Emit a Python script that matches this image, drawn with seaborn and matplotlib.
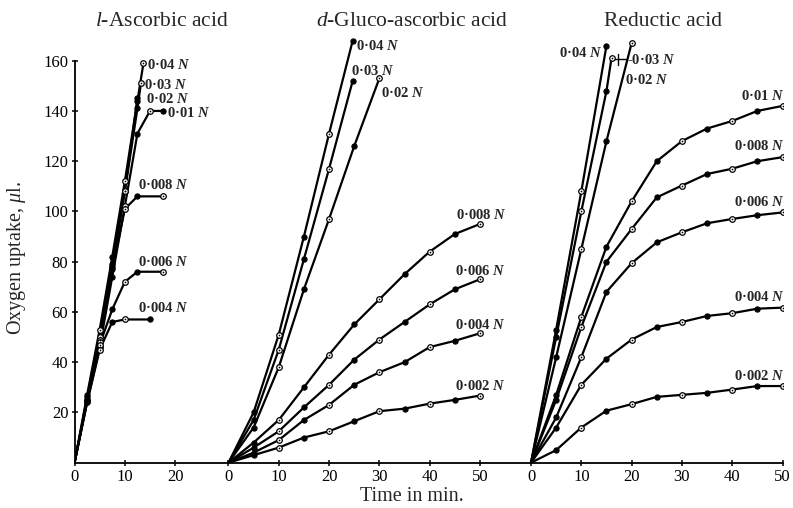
import matplotlib
matplotlib.use("Agg")
import matplotlib.pyplot as plt
import pandas as pd
import seaborn as sns

# three panels share one time axis; each panel's zero sits at an offset
panel_titles = ["$l$-Ascorbic acid", "$d$-Gluco-ascorbic acid", "Reductic acid"]
panel_offset = [0, 30.6, 90.75]
panel_ticks = [[0, 10, 20], [0, 10, 20, 30, 40, 50], [0, 10, 20, 30, 40, 50]]
y_ticks = [20, 40, 60, 80, 100, 120, 140, 160]

# l-ascorbic acid (time in min, oxygen uptake in ul)
asc_conc = ["0·04", "0·03", "0·02", "0·01", "0·008", "0·006", "0·004"]
asc_times = [
    [0, 2.5, 5, 7.5, 10, 12.5, 13.7],
    [0, 2.5, 5, 7.5, 10, 12.5, 13.2],
    [0, 2.5, 5, 7.5, 10, 12.5],
    [0, 2.5, 5, 7.5, 10, 12.5, 15, 17.5],
    [0, 2.5, 5, 7.5, 10, 12.5, 17.5],
    [0, 2.5, 5, 7.5, 10, 12.5, 17.5],
    [0, 2.5, 5, 7.5, 10, 15],
]
asc_values = [
    [0, 27, 53, 82, 112, 144, 159],
    [0, 26, 50, 79, 108, 141, 151],
    [0, 25, 49, 78, 108, 145],
    [0, 24, 46, 74, 102, 131, 140, 140],
    [0, 25, 48, 77, 101, 106, 106],
    [0, 25, 47, 61, 72, 76, 76],
    [0, 24, 45, 56, 57, 57],
]

# d-gluco-ascorbic acid
glu_conc = ["0·04", "0·03", "0·02", "0·008", "0·006", "0·004", "0·002"]
glu_times = [
    [0, 5, 10, 15, 20, 24.7],
    [0, 5, 10, 15, 20, 24.7],
    [0, 5, 10, 15, 20, 25, 30],
    [0, 5, 10, 15, 20, 25, 30, 35, 40, 45, 50],
    [0, 5, 10, 15, 20, 25, 30, 35, 40, 45, 50],
    [0, 5, 10, 15, 20, 25, 30, 35, 40, 45, 50],
    [0, 5, 10, 15, 20, 25, 30, 35, 40, 45, 50],
]
glu_values = [
    [0, 20, 51, 90, 131, 168],
    [0, 17, 45, 81, 117, 152],
    [0, 14, 38, 69, 97, 126, 153],
    [0, 8, 17, 30, 43, 55, 65, 75, 84, 91, 95],
    [0, 6, 12.5, 22, 31, 41, 49, 56, 63, 69, 73],
    [0, 4, 9, 17, 23, 31, 36, 40, 46, 48.5, 51.5],
    [0, 3, 6, 10, 12.5, 16.5, 20.5, 21.5, 23.5, 25, 26.7],
]

# reductic acid
red_conc = ["0·04", "0·03", "0·02", "0·01", "0·008", "0·006", "0·004", "0·002"]
red_times = [
    [0, 5, 10, 15],
    [0, 5, 10, 15, 16],
    [0, 5, 10, 15, 20],
    [0, 5, 10, 15, 20, 25, 30, 35, 40, 45, 50],
    [0, 5, 10, 15, 20, 25, 30, 35, 40, 45, 50],
    [0, 5, 10, 15, 20, 25, 30, 35, 40, 45, 50],
    [0, 5, 10, 15, 20, 25, 30, 35, 40, 45, 50],
    [0, 5, 10, 15, 20, 25, 30, 35, 40, 45, 50],
]
red_values = [
    [0, 53, 108, 166],
    [0, 50, 100, 148, 161],
    [0, 42, 85, 128, 167],
    [0, 27, 58, 86, 104, 120, 128, 133, 136, 140, 142],
    [0, 25, 54, 80, 93, 105.6, 110.3, 114.9, 117, 120, 121.6],
    [0, 18, 42, 68, 79.4, 87.7, 91.7, 95.3, 97, 98.5, 99.6],
    [0, 14, 31, 41.4, 49, 54, 56, 58.4, 59.5, 61.3, 61.7],
    [0, 5, 14, 20.7, 23.3, 26.2, 27, 27.8, 29.1, 30.5, 30.5],
]

# where the concentration labels go (panel time, uptake, alignment)
asc_label_pos = [(14.35, 158.3, "left"), (13.8, 150.3, "left"), (14.2, 144.8, "left"),
                 (18.3, 139.3, "left"), (12.6, 110.5, "left"), (12.6, 80, "left"),
                 (12.6, 61.5, "left")]
glu_label_pos = [(25.3, 165.7, "left"), (24.3, 156, "left"), (30.4, 147.3, "left"),
                 (45.3, 98.6, "left"), (45, 76.4, "left"), (45, 54.8, "left"),
                 (45, 30.6, "left")]
red_label_pos = [(14.3, 163, "right"), (19.0, 160.3, "left"), (18.7, 152.3, "left"),
                 (50.4, 146, "right"), (50.4, 126.2, "right"), (50.4, 103.9, "right"),
                 (50.4, 65.8, "right"), (50.4, 34.5, "right")]

sns.set_theme(style="white")
plt.rcParams["font.family"] = ["Liberation Serif", "DejaVu Serif"]
plt.rcParams["mathtext.fontset"] = "custom"
plt.rcParams["mathtext.rm"] = "Liberation Serif"
plt.rcParams["mathtext.it"] = "Liberation Serif:italic"
plt.rcParams["mathtext.bf"] = "Liberation Serif:bold"
plt.rcParams["mathtext.bfit"] = "Liberation Serif:italic:bold"

panels = [
    (asc_conc, asc_times, asc_values, asc_label_pos),
    (glu_conc, glu_times, glu_values, glu_label_pos),
    (red_conc, red_times, red_values, red_label_pos),
]

rows = []
for p, (concs, times, values, _) in enumerate(panels):
    for c, ts, vs in zip(concs, times, values):
        for i, (t, v) in enumerate(zip(ts, vs)):
            rows.append({"series": f"{p}-{c}", "x": t + panel_offset[p], "y": v, "idx": i})
df = pd.DataFrame(rows)

fig = plt.figure(figsize=(7.93, 5.08), dpi=100)
ax = fig.add_axes([0.094, 0.0892, 0.8928, 0.8408])

sns.lineplot(data=df, x="x", y="y", units="series", estimator=None, sort=False,
             color="black", linewidth=1.6, legend=False, ax=ax)

pts = df[df.idx > 0]
filled = pts[pts.idx % 2 == 1]
hollow = pts[pts.idx % 2 == 0]
sns.scatterplot(data=filled, x="x", y="y", color="black", s=14, edgecolor="black",
                linewidth=0.8, ax=ax, zorder=3, legend=False)
sns.scatterplot(data=hollow, x="x", y="y", color="white", s=16, edgecolor="black",
                linewidth=0.9, ax=ax, zorder=3, legend=False)
sns.scatterplot(data=hollow, x="x", y="y", color="black", s=1.5, linewidth=0,
                ax=ax, zorder=4, legend=False)

# concentration labels
for p, (concs, times, values, label_pos) in enumerate(panels):
    for c, (lx, ly, ha) in zip(concs, label_pos):
        txt = c + " $\\mathbfit{N}$"
        if p == 2 and c == "0·03":
            txt = "-" + txt
            ax.plot([16.2 + panel_offset[p], 18.8 + panel_offset[p]], [160.5, 160.5],
                    color="black", lw=1)
            ax.plot([17.2 + panel_offset[p]] * 2, [158.3, 162.7], color="black", lw=1)
        ax.text(lx + panel_offset[p], ly, txt, ha=ha, va="center", fontsize=10.5,
                fontweight="bold", clip_on=False)

xt, xl = [], []
for p, ticks in enumerate(panel_ticks):
    for t in ticks:
        xt.append(t + panel_offset[p])
        xl.append(str(t))
ax.set_xticks(xt)
ax.set_xticklabels(xl)
ax.set_yticks(y_ticks)
ax.set_xlim(0, panel_offset[2] + 50)
ax.set_ylim(0, 170)
ax.set_xlabel("")
ax.set_ylabel("")

for s in ["top", "right"]:
    ax.spines[s].set_visible(False)
for s in ["left", "bottom"]:
    ax.spines[s].set_color("black")
    ax.spines[s].set_linewidth(1.3)
ax.spines["left"].set_bounds(0, 160)
ax.spines["bottom"].set_bounds(0, panel_offset[2] + 50)
ax.tick_params(direction="inout", length=5, width=1.1, color="black",
               labelsize=12, pad=2, left=True, bottom=True)
for lab in ax.get_xticklabels() + ax.get_yticklabels():
    lab.set_color("black")

title_x = [162, 412, 663]
for tx, title in zip(title_x, panel_titles):
    fig.text(tx / 793, 1 - 22 / 508, title, ha="center", va="center", fontsize=15.5)

fig.text(17 / 793, 1 - 258 / 508, "Oxygen uptake, $\\mu$l.", rotation=90,
         ha="center", va="center", fontsize=14.5)
fig.text(411.5 / 793, 1 - 496.7 / 508, "Time in min.", ha="center", va="center",
         fontsize=14.5)

fig.savefig("out.png", dpi=100, facecolor="white")
